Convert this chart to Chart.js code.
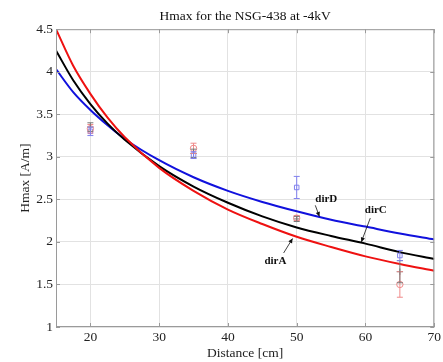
<!DOCTYPE html>
<html><head><meta charset="utf-8">
<script src="https://cdn.jsdelivr.net/npm/chart.js@4"></script>
<style>html,body{margin:0;padding:0;background:#fff}#wrap{width:443px;height:362px}</style>
</head><body><div id="wrap"><canvas id="c" width="443" height="362"></canvas></div>
<script>
const fitX = [15, 17.5, 20, 22.5, 25, 30, 35, 40, 45, 50, 55, 60, 65, 70];
const dirA = [4.50, 4.07, 3.74, 3.46, 3.23, 2.87, 2.60, 2.38, 2.21, 2.06, 1.94, 1.83, 1.74, 1.66];
const dirC = [4.25, 3.90, 3.62, 3.39, 3.20, 2.89, 2.65, 2.46, 2.30, 2.17, 2.07, 1.98, 1.88, 1.80];
const dirD = [4.03, 3.76, 3.55, 3.37, 3.21, 2.96, 2.76, 2.60, 2.47, 2.36, 2.26, 2.18, 2.10, 2.03];

const measX = [20, 35, 50, 65];
const measA = [3.33, 3.10, 2.28, 1.50];
const errA  = [0.05, 0.06, 0.03, 0.15];
const measC = [3.35, 3.04, 2.27, 1.65];
const errC  = [0.05, 0.05, 0.03, 0.13];
const measD = [3.30, 3.02, 2.64, 1.84];
const errD  = [0.05, 0.04, 0.13, 0.06];

const xTicks = [20, 30, 40, 50, 60, 70];
const yTicks = [1, 1.5, 2, 2.5, 3, 3.5, 4, 4.5];

const labels = [
  {text:'dirD', tx:54.3, ty:2.50, ax:52.7, ay:2.43, bx:53.3, by:2.30},
  {text:'dirC', tx:61.5, ty:2.37, ax:60.7, ay:2.28, bx:59.4, by:2.00},
  {text:'dirA', tx:46.9, ty:1.77, ax:48.1, ay:1.87, bx:49.4, by:2.04}
];

const pts = (xs, ys) => xs.map((x, i) => ({x, y: ys[i]}));
const serif = 'Liberation Serif, Times New Roman, serif';
const FS = 13.5;

const errPlugin = {
  id: 'errbars',
  afterDatasetsDraw(chart) {
    const {ctx, scales:{x, y}} = chart;
    chart.data.datasets.forEach((ds) => {
      if (!ds.errs) return;
      ctx.save();
      ctx.strokeStyle = ds.borderColor;
      ctx.lineWidth = 1;
      ds.data.forEach((p, i) => {
        const px = x.getPixelForValue(p.x);
        const y1 = y.getPixelForValue(p.y - ds.errs[i]);
        const y2 = y.getPixelForValue(p.y + ds.errs[i]);
        ctx.beginPath();
        ctx.moveTo(px, y1); ctx.lineTo(px, y2);
        ctx.moveTo(px - 3, y1); ctx.lineTo(px + 3, y1);
        ctx.moveTo(px - 3, y2); ctx.lineTo(px + 3, y2);
        ctx.stroke();
      });
      ctx.restore();
    });
  }
};

const boxPlugin = {
  id: 'box',
  afterDraw(chart) {
    const {ctx, chartArea:a, scales:{x, y}} = chart;
    ctx.save();
    ctx.strokeStyle = '#9a9a9a';
    ctx.lineWidth = 1;
    ctx.strokeRect(a.left + 0.5, a.top + 0.5, a.right - a.left - 1, a.bottom - a.top - 1);
    ctx.beginPath();
    yTicks.forEach(v => { const py = Math.round(y.getPixelForValue(v)) + 0.5; ctx.moveTo(a.right - 4, py); ctx.lineTo(a.right, py); ctx.moveTo(a.left, py); ctx.lineTo(a.left + 4, py); });
    xTicks.forEach(v => { const px = Math.round(x.getPixelForValue(v)) + 0.5; ctx.moveTo(px, a.top); ctx.lineTo(px, a.top + 4); ctx.moveTo(px, a.bottom); ctx.lineTo(px, a.bottom - 4); });
    ctx.stroke();
    ctx.fillStyle = '#111';
    ctx.strokeStyle = '#111';
    ctx.font = 'bold 11px ' + serif;
    ctx.textAlign = 'center';
    ctx.textBaseline = 'middle';
    labels.forEach(l => {
      ctx.fillText(l.text, x.getPixelForValue(l.tx), y.getPixelForValue(l.ty));
      const ax = x.getPixelForValue(l.ax), ay = y.getPixelForValue(l.ay);
      const bx = x.getPixelForValue(l.bx), by = y.getPixelForValue(l.by);
      ctx.lineWidth = 0.8;
      ctx.beginPath(); ctx.moveTo(ax, ay); ctx.lineTo(bx, by); ctx.stroke();
      const ang = Math.atan2(by - ay, bx - ax);
      ctx.beginPath();
      ctx.moveTo(bx, by);
      ctx.lineTo(bx - 5 * Math.cos(ang - 0.45), by - 5 * Math.sin(ang - 0.45));
      ctx.lineTo(bx - 5 * Math.cos(ang + 0.45), by - 5 * Math.sin(ang + 0.45));
      ctx.closePath(); ctx.fill();
    });
    ctx.restore();
  }
};

const lineDs = (label, ys, color) => ({
  label, data: pts(fitX, ys), showLine: true, borderColor: color, backgroundColor: color,
  borderWidth: 2, pointRadius: 0, tension: 0.4, cubicInterpolationMode: 'monotone', order: 1
});
const markDs = (label, ys, errs, color, style) => ({
  label, data: pts(measX, ys), errs, showLine: false, borderColor: color, backgroundColor: 'rgba(0,0,0,0)',
  pointStyle: style, pointRadius: 3.2, pointBorderWidth: 1, order: 2
});

new Chart(document.getElementById('c'), {
  type: 'scatter',
  data: {
    datasets: [
      markDs('meas A', measA, errA, '#f08a8a', 'circle'),
      markDs('meas C', measC, errC, '#777777', 'cross'),
      markDs('meas D', measD, errD, '#8080ee', 'rect'),
      lineDs('dirA', dirA, '#ee1111'),
      lineDs('dirC', dirC, '#000000'),
      lineDs('dirD', dirD, '#1111dd')
    ]
  },
  options: {
    responsive: false, animation: false, devicePixelRatio: 1,
    layout: {padding: {top: 1, right: 6, left: 0, bottom: 0}},
    plugins: {
      legend: {display: false}, tooltip: {enabled: false},
      title: {display: true, fullSize: false, text: 'Hmax for the NSG-438 at -4kV', color: '#111',
        font: {family: serif, size: FS, weight: 'normal'}, padding: {top: 7, bottom: 5}}
    },
    scales: {
      x: {
        type: 'linear', min: 15, max: 70,
        afterBuildTicks: s => { s.ticks = xTicks.map(v => ({value: v})); },
        afterFit: s => { s.height = 35; },
        ticks: {color: '#222', font: {family: serif, size: FS}, padding: 2, maxRotation: 0},
        grid: {color: '#e2e2e2', drawTicks: false},
        border: {display: false},
        title: {display: true, text: 'Distance [cm]', color: '#222', font: {family: serif, size: FS}, padding: {top: 0, bottom: 0}}
      },
      y: {
        type: 'linear', min: 1, max: 4.5,
        afterBuildTicks: s => { s.ticks = yTicks.map(v => ({value: v})); },
        afterFit: s => { s.width = 56; },
        ticks: {color: '#222', font: {family: serif, size: FS}, padding: 3, callback: v => String(v)},
        grid: {color: '#e2e2e2', drawTicks: false},
        border: {display: false},
        title: {display: true, text: 'Hmax [A/m]', color: '#222', font: {family: serif, size: FS}, padding: {top: 17, bottom: 0}}
      }
    }
  },
  plugins: [errPlugin, boxPlugin]
});
</script></body></html>
